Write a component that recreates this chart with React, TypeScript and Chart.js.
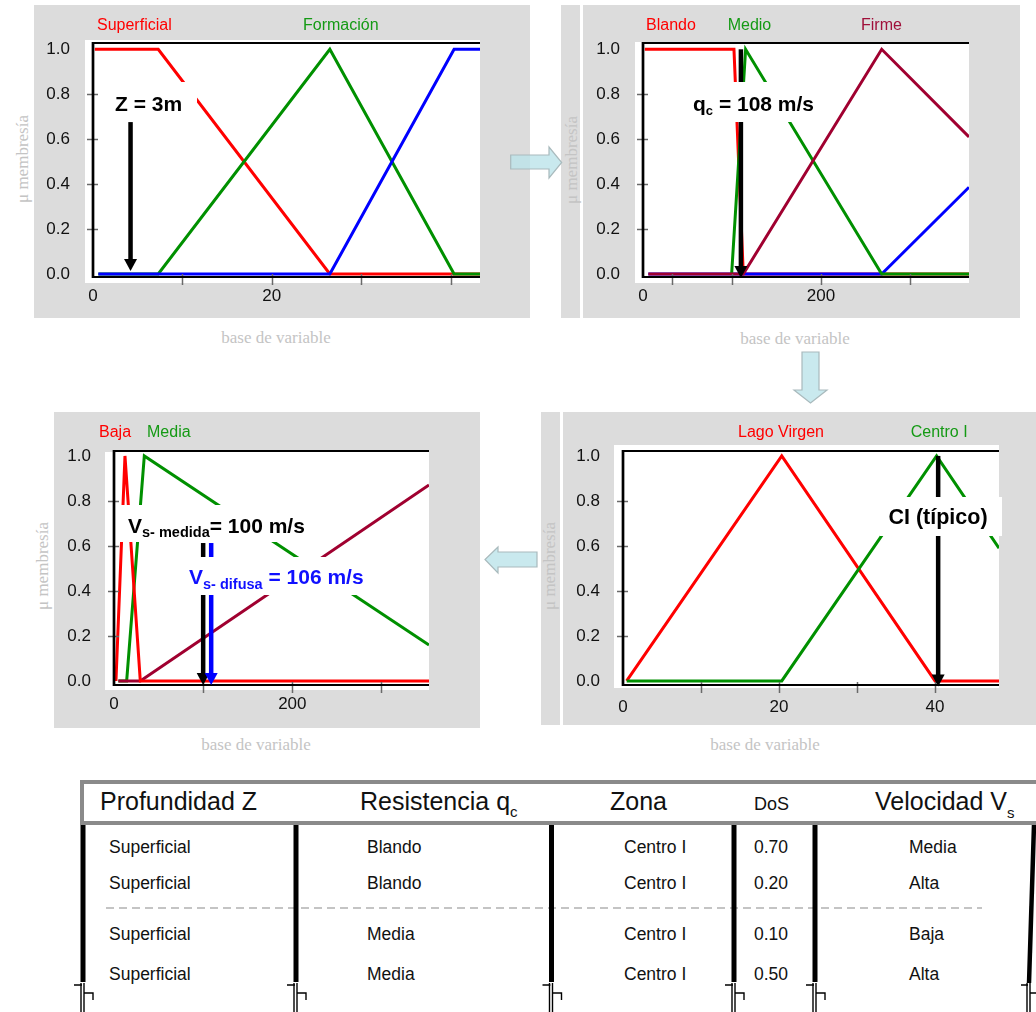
import React, { useEffect, useRef } from "react";
import { Chart, registerables } from "chart.js";
Chart.register(...registerables);

// ---------------- DATA ----------------
const muTicks = [0, 0.2, 0.4, 0.6, 0.8, 1.0];
const muTickLabels = ["0.0", "0.2", "0.4", "0.6", "0.8", "1.0"];

// Panel 1: Profundidad Z (m)
const zTicks = [0, 10, 20, 30, 40];
const zTickLabels = ["0", "", "20", "", ""];
const zSuperficialX = [0.2, 7.3, 26.5, 43.3];
const zSuperficialY = [1, 1, 0, 0];
const zFormacionX = [0.6, 7.3, 26.5, 40.4, 43.3];
const zFormacionY = [0, 0, 1, 0, 0];
const zProfundoX = [0.6, 26.5, 40.4, 43.3];
const zProfundoY = [0, 0, 1, 1];
const zArrowX = 4.2;

// Panel 2: Resistencia q_c
const qTicks = [0, 33, 100, 200, 300];
const qTickLabels = ["0", "", "", "200", ""];
const qBlandoX = [2, 102.2, 112.7, 366.3];
const qBlandoY = [1, 1, 0, 0];
const qMedioX = [99.6, 115.3, 268.2, 366.3];
const qMedioY = [0, 1, 0, 0];
const qFirmeX = [6, 112.7, 268.2, 366.3];
const qFirmeY = [0, 0, 1, 0.61];
const qDuroX = [6, 268.2, 366.3];
const qDuroY = [0, 0, 0.386];
const qArrowX = 110;

// Panel 3: Velocidad V_s
const vTicks = [0, 100, 200, 300];
const vTickLabels = ["0", "", "200", ""];
const vBajaX = [2.2, 12.3, 29.5, 353.3];
const vBajaY = [0, 1, 0, 0];
const vMediaX = [4.9, 14.2, 34, 353.3];
const vMediaY = [0, 0, 1, 0.16];
const vAltaX = [4.9, 29.5, 353.3];
const vAltaY = [0, 0, 0.871];
const vMedidaArrowX = 100;
const vDifusaArrowX = 109;

// Panel 4: Zona (CI)
const ciTicks = [0, 10, 20, 30, 40];
const ciTickLabels = ["0", "", "20", "", "40"];
const ciLagoX = [0.47, 20.35, 40, 48.2];
const ciLagoY = [0, 1, 0, 0];
const ciCentroX = [0.47, 20.35, 40.2, 48.2];
const ciCentroY = [0, 0, 1, 0.59];
const ciArrowX = 40.4;

// Table
const colProfundidad = ["Superficial", "Superficial", "Superficial", "Superficial"];
const colResistencia = ["Blando", "Blando", "Media", "Media"];
const colZona = ["Centro I", "Centro I", "Centro I", "Centro I"];
const colDoS = ["0.70", "0.20", "0.10", "0.50"];
const colVelocidad = ["Media", "Alta", "Baja", "Alta"];

// ---------------- STYLE ----------------
const FONT = '"Liberation Sans", Arial, Helvetica, sans-serif';
const SERIF = '"Liberation Serif", "Times New Roman", serif';
const GREY = "#dcdcdc";
const RED = "#ff0000";
const GREEN = "#009000";
const BLUE = "#0000ff";
const MAROON = "#a00030";
const GREEN_TXT = "#149a14";
const MAROON_TXT = "#a0103a";
const HX = 30;

type Series = { label: string; x: number[]; y: number[]; color: string; labelColor?: string; labelLeft?: number; labelCy?: number };
type Arrow = { x: number; yFrom: number; yTo: number; color: string };
type Box = { x: number; y: number; w: number; h: number };
type Run = { t: string; s: number; dy?: number };
type TextItem = { x: number; y: number; align: "left" | "center"; color: string; runs: Run[] };
type PanelCfg = {
  canvas: { x: number; y: number; w: number; h: number };
  area: { L: number; T: number; R: number; B: number };
  white: { x0: number; y0: number; x1: number; y1: number };
  xMin: number; xMax: number; xTicks: number[]; xTickLabels: string[]; xLabelPad: number;
  yMin: number; yMax: number;
  series: Series[];
  arrows: Arrow[]; boxes: Box[]; texts: TextItem[];
  yTitle: { cx: number; cy: number }; xTitle: { cx: number; cy: number };
};

const panel1: PanelCfg = {
  canvas: { x: 34, y: 5, w: 496, h: 313 },
  area: { L: 93, T: 43, R: 480, B: 277 },
  white: { x0: 85, y0: 40, x1: 480, y1: 283 },
  xMin: 0, xMax: 43.3, xTicks: zTicks, xTickLabels: zTickLabels, xLabelPad: 9,
  yMin: -0.0134, yMax: 1.028,
  series: [
    { label: "", x: zProfundoX, y: zProfundoY, color: BLUE },
    { label: "Formación", x: zFormacionX, y: zFormacionY, color: GREEN, labelColor: GREEN_TXT, labelLeft: 303, labelCy: 24.5 },
    { label: "Superficial", x: zSuperficialX, y: zSuperficialY, color: RED, labelColor: RED, labelLeft: 97, labelCy: 24.5 },
  ],
  arrows: [{ x: zArrowX, yFrom: 0.676, yTo: 0.013, color: "#000" }],
  boxes: [{ x: 110, y: 82, w: 87, h: 35 }],
  texts: [{ x: 115, y: 110.7, align: "left", color: "#000", runs: [{ t: "Z = 3m", s: 21 }] }],
  yTitle: { cx: 22, cy: 159 }, xTitle: { cx: 276, cy: 337 },
};

const panel2: PanelCfg = {
  canvas: { x: 583, y: 5, w: 437, h: 313 },
  area: { L: 643, T: 43, R: 969, B: 277 },
  white: { x0: 635, y0: 42, x1: 969, y1: 283 },
  xMin: 0, xMax: 366.3, xTicks: qTicks, xTickLabels: qTickLabels, xLabelPad: 9,
  yMin: -0.0134, yMax: 1.028,
  series: [
    { label: "Firme", x: qFirmeX, y: qFirmeY, color: MAROON, labelColor: MAROON_TXT, labelLeft: 861, labelCy: 24.5 },
    { label: "Medio", x: qMedioX, y: qMedioY, color: GREEN, labelColor: GREEN_TXT, labelLeft: 727.7, labelCy: 24.5 },
    { label: "", x: qDuroX, y: qDuroY, color: BLUE },
    { label: "Blando", x: qBlandoX, y: qBlandoY, color: RED, labelColor: RED, labelLeft: 646, labelCy: 24.5 },
  ],
  arrows: [{ x: qArrowX, yFrom: 1.0, yTo: -0.018, color: "#000" }],
  boxes: [{ x: 688, y: 82, w: 134, h: 40 }],
  texts: [{ x: 693, y: 110.7, align: "left", color: "#000", runs: [{ t: "q", s: 21 }, { t: "c", s: 13, dy: 4.5 }, { t: " = 108 m/s", s: 21 }] }],
  yTitle: { cx: 571, cy: 160 }, xTitle: { cx: 795, cy: 338 },
};

const panel3: PanelCfg = {
  canvas: { x: 54, y: 412, w: 426, h: 316 },
  area: { L: 114, T: 451, R: 429, B: 685 },
  white: { x0: 105, y0: 452, x1: 429, y1: 690 },
  xMin: 0, xMax: 353.3, xTicks: vTicks, xTickLabels: vTickLabels, xLabelPad: 9,
  yMin: -0.018, yMax: 1.022,
  series: [
    { label: "Baja", x: vBajaX, y: vBajaY, color: RED, labelColor: RED, labelLeft: 99, labelCy: 432 },
    { label: "", x: vAltaX, y: vAltaY, color: MAROON },
    { label: "Media", x: vMediaX, y: vMediaY, color: GREEN, labelColor: GREEN_TXT, labelLeft: 147, labelCy: 432 },
  ],
  arrows: [
    { x: vMedidaArrowX, yFrom: 0.613, yTo: -0.018, color: "#000" },
    { x: vDifusaArrowX, yFrom: 0.613, yTo: -0.018, color: BLUE },
  ],
  boxes: [{ x: 116, y: 505, w: 194, h: 37 }, { x: 187, y: 557, w: 180, h: 38 }],
  texts: [
    { x: 128, y: 532.7, align: "left", color: "#000", runs: [{ t: "V", s: 21 }, { t: "s- medida", s: 14.5, dy: 4 }, { t: "= 100 m/s", s: 21 }] },
    { x: 189, y: 584, align: "left", color: "#1010ff", runs: [{ t: "V", s: 21 }, { t: "s- difusa", s: 14.5, dy: 5 }, { t: " = 106 m/s", s: 21 }] },
  ],
  yTitle: { cx: 42, cy: 566 }, xTitle: { cx: 256, cy: 744 },
};

const panel4: PanelCfg = {
  canvas: { x: 563, y: 412, w: 473, h: 313 },
  area: { L: 623, T: 451, R: 999, B: 685 },
  white: { x0: 614, y0: 445, x1: 999, y1: 688 },
  xMin: 0, xMax: 48.2, xTicks: ciTicks, xTickLabels: ciTickLabels, xLabelPad: 12,
  yMin: -0.018, yMax: 1.022,
  series: [
    { label: "Centro I", x: ciCentroX, y: ciCentroY, color: GREEN, labelColor: GREEN_TXT, labelLeft: 910.7, labelCy: 432 },
    { label: "Lago Virgen", x: ciLagoX, y: ciLagoY, color: RED, labelColor: RED, labelLeft: 738, labelCy: 432 },
  ],
  arrows: [{ x: ciArrowX, yFrom: 1.0, yTo: -0.025, color: "#000" }],
  boxes: [{ x: 880, y: 497, w: 122, h: 39 }],
  texts: [{ x: 938, y: 524, align: "center", color: "#000", runs: [{ t: "CI (típico)", s: 21.5 }] }],
  yTitle: { cx: 549, cy: 566 }, xTitle: { cx: 765, cy: 744 },
};

const panels = [panel1, panel2, panel3, panel4];

// ---------------- DRAW HELPERS ----------------
function boldFont(s: number) {
  return `bold ${s}px ${FONT}`;
}

function drawArrow(ctx: CanvasRenderingContext2D, x: number, y0: number, y1: number, color: string) {
  const headH = 12, headW = 13, shaft = 4.5;
  ctx.fillStyle = color;
  ctx.fillRect(x - shaft / 2, y0, shaft, y1 - headH - y0 + 1);
  ctx.beginPath();
  ctx.moveTo(x - headW / 2, y1 - headH);
  ctx.lineTo(x + headW / 2, y1 - headH);
  ctx.lineTo(x, y1);
  ctx.closePath();
  ctx.fill();
}

function drawRuns(ctx: CanvasRenderingContext2D, tx: TextItem, ox: number, oy: number) {
  let total = 0;
  tx.runs.forEach((r) => {
    ctx.font = boldFont(r.s);
    total += ctx.measureText(r.t).width;
  });
  let x = (tx.align === "center" ? tx.x - total / 2 : tx.x) - ox;
  ctx.fillStyle = tx.color;
  ctx.textAlign = "left";
  ctx.textBaseline = "alphabetic";
  tx.runs.forEach((r) => {
    ctx.font = boldFont(r.s);
    ctx.fillText(r.t, x, tx.y - oy + (r.dy || 0));
    x += ctx.measureText(r.t).width;
  });
}

function makeDecor(cfg: PanelCfg) {
  const ox = cfg.canvas.x;
  const oy = cfg.canvas.y;
  return {
    id: "panelDecor",
    beforeDraw(chart: any) {
      const ctx: CanvasRenderingContext2D = chart.ctx;
      ctx.save();
      ctx.fillStyle = GREY;
      ctx.fillRect(0, 0, chart.width, chart.height);
      ctx.fillStyle = "#ffffff";
      ctx.fillRect(cfg.white.x0 - ox, cfg.white.y0 - oy, cfg.white.x1 - cfg.white.x0, cfg.white.y1 - cfg.white.y0);
      ctx.restore();
    },
    afterDatasetsDraw(chart: any) {
      const ctx: CanvasRenderingContext2D = chart.ctx;
      const a = chart.chartArea;
      const xs = chart.scales.x;
      const ys = chart.scales.y;
      ctx.save();
      ctx.strokeStyle = "#6a6a6a";
      ctx.lineWidth = 1.5;
      xs.ticks.forEach((t: any) => {
        if (t.value === cfg.xMin) return;
        const px = Math.round(xs.getPixelForValue(t.value)) + 0.5;
        ctx.beginPath();
        ctx.moveTo(px, a.bottom - 3);
        ctx.lineTo(px, a.bottom + 8);
        ctx.stroke();
      });
      ys.ticks.forEach((t: any) => {
        if (t.value === 0 || t.value === 1) return;
        const py = Math.round(ys.getPixelForValue(t.value)) + 0.5;
        ctx.beginPath();
        ctx.moveTo(a.left - 6, py);
        ctx.lineTo(a.left + 5, py);
        ctx.stroke();
      });
      ctx.strokeStyle = "#000";
      ctx.lineWidth = 2;
      ctx.beginPath();
      ctx.moveTo(a.left, a.top);
      ctx.lineTo(a.right, a.top);
      ctx.stroke();
      ctx.beginPath();
      ctx.moveTo(a.left, a.bottom);
      ctx.lineTo(a.right, a.bottom);
      ctx.stroke();
      ctx.lineWidth = 2.7;
      ctx.beginPath();
      ctx.moveTo(a.left, a.top - 1);
      ctx.lineTo(a.left, a.bottom + 1);
      ctx.stroke();
      cfg.arrows.forEach((ar) =>
        drawArrow(ctx, xs.getPixelForValue(ar.x), ys.getPixelForValue(ar.yFrom), ys.getPixelForValue(ar.yTo), ar.color)
      );
      ctx.fillStyle = "#ffffff";
      cfg.boxes.forEach((b) => ctx.fillRect(b.x - ox, b.y - oy, b.w, b.h));
      cfg.texts.forEach((tx) => drawRuns(ctx, tx, ox, oy));
      ctx.restore();
    },
  };
}

function Panel({ cfg }: { cfg: PanelCfg }) {
  const ref = useRef<HTMLCanvasElement>(null);
  useEffect(() => {
    const c = cfg;
    const wy = c.area.L - c.canvas.x;
    const pad = {
      left: 0,
      top: c.area.T - c.canvas.y,
      right: c.canvas.x + c.canvas.w - c.area.R,
      bottom: c.canvas.y + c.canvas.h - c.area.B - HX,
    };
    const chart = new Chart(ref.current as HTMLCanvasElement, {
      type: "line",
      data: {
        datasets: c.series.map((s) => ({
          label: s.label,
          data: s.x.map((xv, i) => ({ x: xv, y: s.y[i] })),
          borderColor: s.color,
          backgroundColor: s.color,
          borderWidth: 3,
          pointRadius: 0,
          pointHoverRadius: 0,
          tension: 0,
          fill: false,
          clip: 0,
        })),
      },
      options: {
        responsive: false,
        animation: false,
        devicePixelRatio: 1,
        events: [],
        layout: { padding: pad },
        plugins: { legend: { display: false }, tooltip: { enabled: false } },
        scales: {
          x: {
            type: "linear",
            min: c.xMin,
            max: c.xMax,
            bounds: "data",
            afterFit: (s: any) => { s.height = HX; },
            afterBuildTicks: (s: any) => { s.ticks = c.xTicks.map((v) => ({ value: v })); },
            ticks: {
              autoSkip: false,
              maxRotation: 0,
              minRotation: 0,
              padding: c.xLabelPad,
              color: "#111",
              font: { family: FONT, size: 17 },
              callback: (v: any) => c.xTickLabels[c.xTicks.indexOf(Number(v))] ?? "",
            },
            grid: { display: false, drawTicks: false },
            border: { display: false },
          },
          y: {
            type: "linear",
            min: c.yMin,
            max: c.yMax,
            bounds: "data",
            afterFit: (s: any) => { s.width = wy; },
            afterBuildTicks: (s: any) => { s.ticks = muTicks.map((v) => ({ value: v })); },
            ticks: {
              autoSkip: false,
              padding: 23,
              color: "#111",
              font: { family: FONT, size: 17 },
              callback: (v: any) => muTickLabels[muTicks.indexOf(Number(v))] ?? "",
            },
            grid: { display: false, drawTicks: false },
            border: { display: false },
          },
        },
      } as any,
      plugins: [makeDecor(c)],
    });
    return () => chart.destroy();
  }, [cfg]);
  return (
    <canvas
      ref={ref}
      width={cfg.canvas.w}
      height={cfg.canvas.h}
      style={{ position: "absolute", left: cfg.canvas.x, top: cfg.canvas.y, width: cfg.canvas.w, height: cfg.canvas.h }}
    />
  );
}

function Txt(props: { left: number; cy: number; size: number; color: string; children: any; family?: string; weight?: string; center?: boolean }) {
  const { left, cy, size, color, children, family = FONT, weight = "normal", center = false } = props;
  return (
    <div
      style={{
        position: "absolute",
        left,
        top: cy - size / 2,
        fontSize: size,
        lineHeight: `${size}px`,
        color,
        fontFamily: family,
        fontWeight: weight as any,
        whiteSpace: "nowrap",
        transform: center ? "translateX(-50%)" : undefined,
      }}
    >
      {children}
    </div>
  );
}

function RotTitle({ cx, cy }: { cx: number; cy: number }) {
  return (
    <div
      style={{
        position: "absolute",
        left: cx,
        top: cy,
        transform: "translate(-50%,-50%) rotate(-90deg)",
        fontFamily: SERIF,
        fontSize: 17,
        lineHeight: "17px",
        color: "#c4c4c4",
        whiteSpace: "nowrap",
      }}
    >
      μ membresía
    </div>
  );
}

const tableColLefts = [109, 367, 624, 754, 909];
const tableRowCy = [848, 884, 935, 975];
const tableLineXs = [83, 296, 551.5, 734, 815];

export default function App() {
  const cols = [colProfundidad, colResistencia, colZona, colDoS, colVelocidad];
  const arrowFill = "rgba(188,228,234,0.8)";
  const arrowStroke = "#a9babd";
  return (
    <div style={{ position: "absolute", left: 0, top: 0, width: 1036, height: 1012, overflow: "hidden", background: "#fff", fontFamily: FONT }}>
      {/* label strips */}
      <div style={{ position: "absolute", left: 561, top: 5, width: 19, height: 313, background: GREY }} />
      <div style={{ position: "absolute", left: 541, top: 412, width: 19, height: 313, background: GREY }} />

      {panels.map((p, i) => (
        <Panel key={i} cfg={p} />
      ))}

      {panels.map((p, i) =>
        p.series
          .filter((s) => s.label)
          .map((s, j) => (
            <Txt key={`l${i}-${j}`} left={s.labelLeft as number} cy={s.labelCy as number} size={16} color={s.labelColor as string}>
              {s.label}
            </Txt>
          ))
      )}

      {panels.map((p, i) => (
        <RotTitle key={`yt${i}`} cx={p.yTitle.cx} cy={p.yTitle.cy} />
      ))}
      {panels.map((p, i) => (
        <Txt key={`xt${i}`} left={p.xTitle.cx} cy={p.xTitle.cy} size={17} color="#c4c4c4" family={SERIF} center>
          base de variable
        </Txt>
      ))}

      {/* table header */}
      <div style={{ position: "absolute", left: 80, top: 780, width: 980, height: 45, border: "4px solid #8a8a8a", boxSizing: "border-box", background: "#fff" }} />
      <Txt left={100} cy={801} size={25} color="#111">Profundidad Z</Txt>
      <Txt left={360} cy={801} size={25} color="#111">
        Resistencia q<span style={{ fontSize: 15, position: "relative", top: 7 }}>c</span>
      </Txt>
      <Txt left={610} cy={801} size={25} color="#111">Zona</Txt>
      <Txt left={754} cy={803.5} size={18} color="#111">DoS</Txt>
      <Txt left={875} cy={801} size={25} color="#111">
        Velocidad V<span style={{ fontSize: 15, position: "relative", top: 8 }}>s</span>
      </Txt>

      {cols.map((col, ci) =>
        col.map((val, ri) => (
          <Txt key={`c${ci}-${ri}`} left={tableColLefts[ci]} cy={tableRowCy[ri]} size={17.5} color="#111">
            {val}
          </Txt>
        ))
      )}

      <svg width={1036} height={1012} style={{ position: "absolute", left: 0, top: 0, pointerEvents: "none" }}>
        {/* flow arrows */}
        <polygon points="510.7,155 549,155 549,147 561.7,162.5 549,178 549,169 510.7,169" fill={arrowFill} stroke={arrowStroke} strokeWidth={1.2} />
        <polygon points="802,352 819,352 819,390 827,390 810.5,403 794,390 802,390" fill={arrowFill} stroke={arrowStroke} strokeWidth={1.2} />
        <polygon points="537,552 498,552 498,547 485,559.5 498,573 498,567 537,567" fill={arrowFill} stroke={arrowStroke} strokeWidth={1.2} />

        {/* table lines */}
        <line x1={106} y1={908} x2={982} y2={908} stroke="#c4c4c4" strokeWidth={2} strokeDasharray="8 5" />
        {tableLineXs.map((x, i) => (
          <g key={`tl${i}`}>
            <line x1={x} y1={825} x2={x} y2={982} stroke="#000" strokeWidth={5} />
            <path
              d={`M${x - 9},985 H${x - 1} M${x - 2},983 V1012 M${x + 1},983 V1012 M${x + 1},993 H${x + 10} V1000`}
              stroke="#000"
              strokeWidth={1.4}
              fill="none"
            />
          </g>
        ))}
        <line x1={1034} y1={825} x2={1029} y2={983} stroke="#000" strokeWidth={4.5} />
        <path d="M1021,985 H1028 M1027,983 V1012 M1030,983 V1012 M1030,993 H1036" stroke="#000" strokeWidth={1.4} fill="none" />
      </svg>
    </div>
  );
}
